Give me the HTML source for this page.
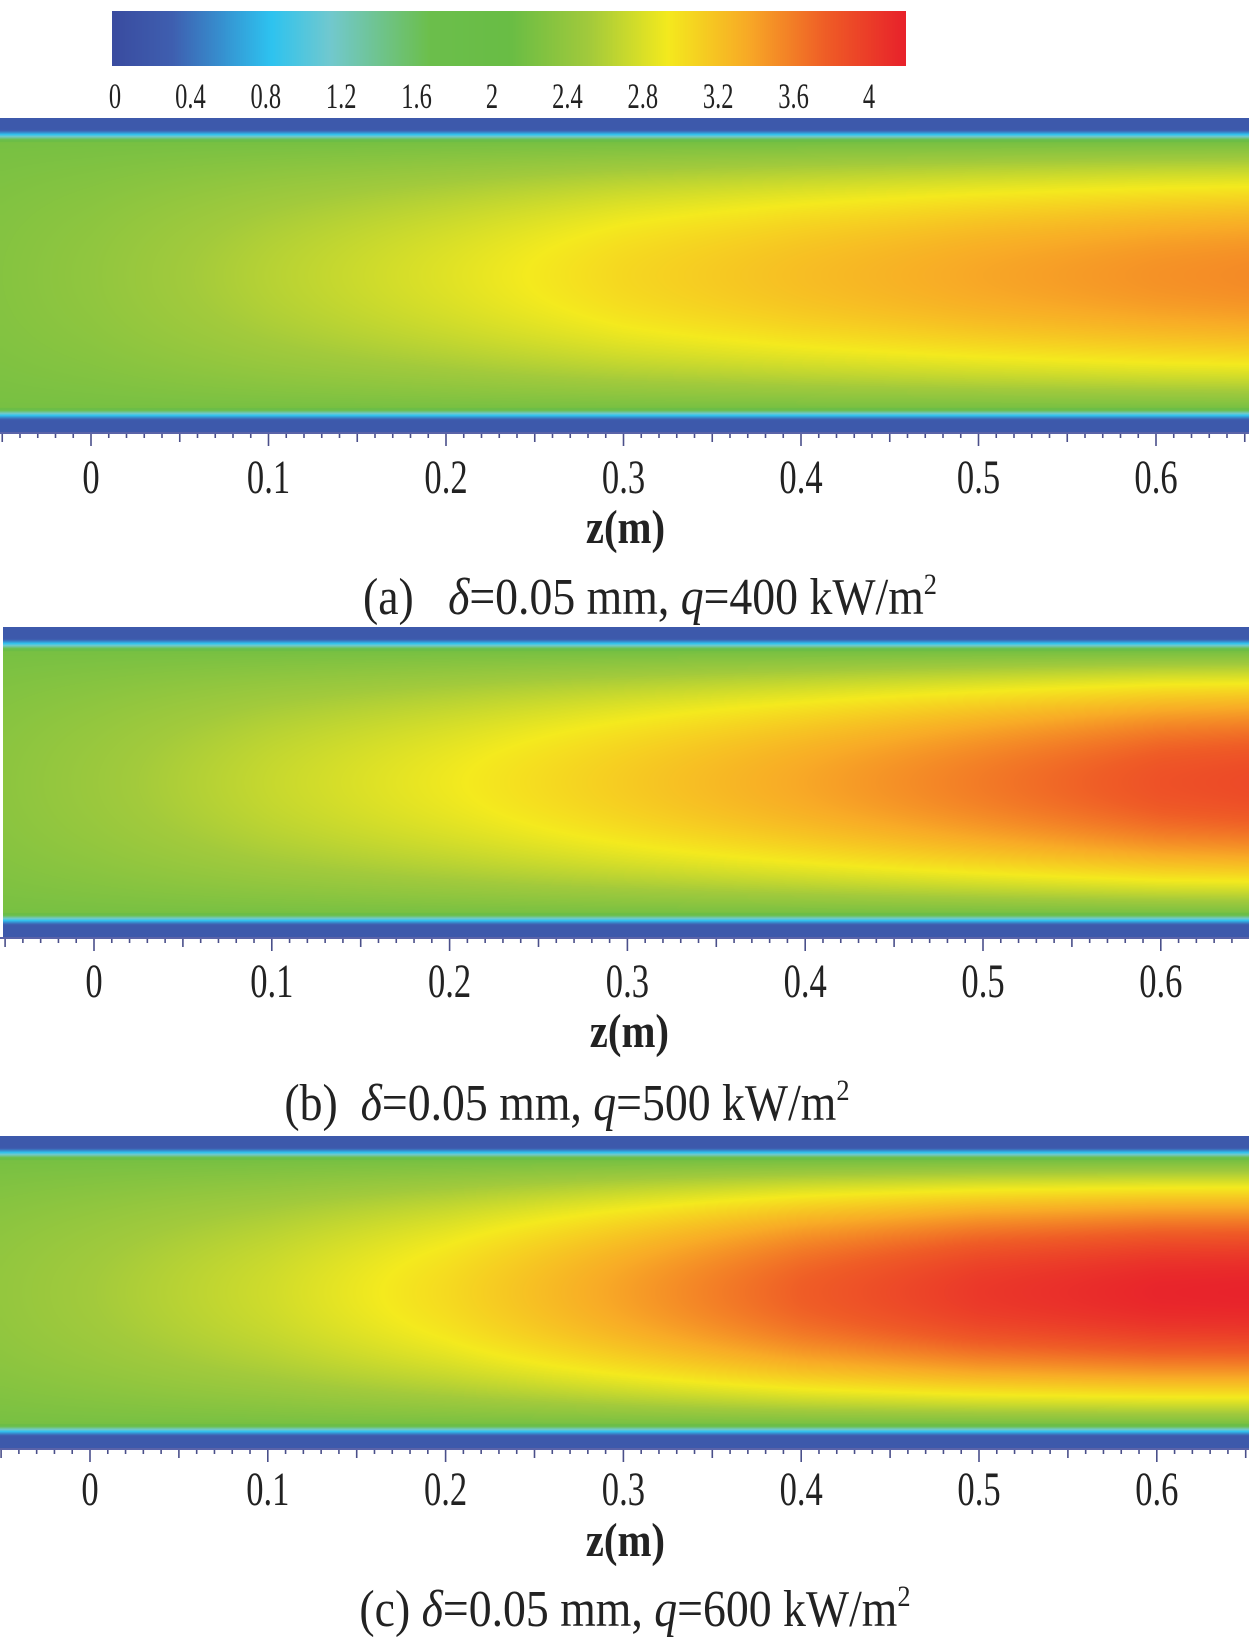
<!DOCTYPE html>
<html><head><meta charset="utf-8"><style>
html,body{margin:0;padding:0;background:#fff;}
#wrap{position:relative;width:1249px;height:1645px;overflow:hidden;}
canvas{position:absolute;}
svg{position:absolute;left:0;top:0;}
text{font-family:"Liberation Serif",serif;fill:#222;}
</style></head><body>
<div id="wrap">
<canvas id="cb" width="794" height="55" style="left:112px;top:11px"></canvas>
<canvas id="pa" width="1249" height="314" style="left:0;top:118px"></canvas>
<canvas id="pb" width="1246" height="310" style="left:3px;top:627px"></canvas>
<canvas id="pc" width="1249" height="312" style="left:0;top:1136px"></canvas>
<svg id="ov" width="1249" height="1645"></svg>
</div>
<script>
// colorbar ticks
const cbTicks=[0,0.4,0.8,1.2,1.6,2,2.4,2.8,3.2,3.6,4];
// colormap stops (value, color)
const cmapVals=[0,0.3,0.8,1.1,1.6,2.0,2.4,2.8,3.2,3.6,4];
const cmapCols=["#3a4ca0","#3f5fb0","#2ec3f0","#72c9cf","#6cbf4c","#69bd45","#a2ca3c","#f4ea1e","#f8ab26","#ef5d26","#e8222b"];
// axial positions (m) and centerline values per panel
const zPos=[-0.05,0,0.1,0.2,0.3,0.4,0.5,0.6,0.67];
const centerA=[2.2,2.28,2.5,2.7,2.92,3.08,3.22,3.33,3.38];
const centerB=[2.25,2.35,2.58,2.78,3.0,3.22,3.45,3.68,3.75];
const centerC=[2.3,2.4,2.62,2.9,3.25,3.6,3.85,3.98,4.0];
const xTicks=[0,0.1,0.2,0.3,0.4,0.5,0.6];
const wallVal=2.1;

function hex(c){return [parseInt(c.slice(1,3),16),parseInt(c.slice(3,5),16),parseInt(c.slice(5,7),16)];}
const cmapRGB=cmapCols.map(hex);
function cmap(v){
  if(v<=cmapVals[0])return cmapRGB[0];
  for(let i=1;i<cmapVals.length;i++){if(v<=cmapVals[i]){const t=(v-cmapVals[i-1])/(cmapVals[i]-cmapVals[i-1]);const a=cmapRGB[i-1],b=cmapRGB[i];return [a[0]+(b[0]-a[0])*t,a[1]+(b[1]-a[1])*t,a[2]+(b[2]-a[2])*t];}}
  return cmapRGB[cmapRGB.length-1];
}
function interp(xs,ys,x){
  if(x<=xs[0])return ys[0];
  for(let i=1;i<xs.length;i++)if(x<=xs[i]){const t=(x-xs[i-1])/(xs[i]-xs[i-1]);return ys[i-1]+(ys[i]-ys[i-1])*t;}
  return ys[ys.length-1];
}
// colorbar
(function(){const c=document.getElementById('cb'),g=c.getContext('2d');const W=c.width,H=c.height;
 for(let x=0;x<W;x++){const v=4*x/(W-1);const r=cmap(v);g.fillStyle=`rgb(${r[0]|0},${r[1]|0},${r[2]|0})`;g.fillRect(x,0,1,H);}})();

function drawPanel(id,center,x0,pxPerM,canvasLeft){
  const c=document.getElementById(id),g=c.getContext('2d');const W=c.width,H=c.height;
  const img=g.createImageData(W,H);
  const zOf=px=>(px+canvasLeft-x0)/pxPerM;
  for(let x=0;x<W;x++){
    const cv=interp(zPos,center,zOf(x));
    for(let y=0;y<H;y++){
      const d=Math.min(y,H-1-y);
      let v;
      if(d<11){v=0.2;}
      else if(d<24){v=0.2+(wallVal-0.2)*Math.pow((d-11)/13,1.2);}
      else{const s=Math.abs((y-H/2)/(H/2-24));v=wallVal+(cv-wallVal)*(1-Math.pow(Math.min(s,1),2));}
      const r=cmap(v);const i=(y*W+x)*4;img.data[i]=r[0];img.data[i+1]=r[1];img.data[i+2]=r[2];img.data[i+3]=255;
    }
  }
  g.putImageData(img,0,0);
}
drawPanel('pa',centerA,91,1775,0);
drawPanel('pb',centerB,94,1778,3);
drawPanel('pc',centerC,90,1778,0);

const NS="http://www.w3.org/2000/svg";const ov=document.getElementById('ov');
function txt(x,y,s,size,sx,name,bold){const t=document.createElementNS(NS,'text');
 t.setAttribute('x',0);t.setAttribute('y',0);t.setAttribute('text-anchor','middle');
 t.setAttribute('font-size',size);if(bold)t.setAttribute('font-weight','bold');
 t.setAttribute('transform',`translate(${x},${y}) scale(${sx},1)`);t.innerHTML=s;
 
 
 ov.appendChild(t);return t;}
// colorbar labels
cbTicks.forEach(v=>{const x=115+(869-115)*v/4;txt(x,108,String(v),36,0.68,'colorbar-tick-label');});
function axis(top,x0,pxPerM,labY,zY,capY,capX,cap,key){
  for(let k=-9;k<=68;k++){const z=k/100;const x=x0+z*pxPerM;if(x<0||x>1249)continue;
    const len=k%10===0?14:(k%5===0?10:6);
    const l=document.createElementNS(NS,'line');l.setAttribute('x1',x);l.setAttribute('x2',x);l.setAttribute('y1',top);l.setAttribute('y2',top+len);
    l.setAttribute('stroke','#4a4f8a');l.setAttribute('stroke-width',1.6);
    
    
    ov.appendChild(l);}
  const bl=document.createElementNS(NS,'line');bl.setAttribute('x1',0);bl.setAttribute('x2',1249);bl.setAttribute('y1',top+1);bl.setAttribute('y2',top+1);bl.setAttribute('stroke','#5a63a8');bl.setAttribute('stroke-width',2);
  
  
  ov.appendChild(bl);
  xTicks.forEach(v=>txt(x0+v*pxPerM,labY,String(v),48,0.72,'x-tick-label-'+key));
  txt(x0+0.3*pxPerM+2,zY,'z(m)',48,0.85,'x-axis-title-'+key,true);
  txt(capX,capY,cap,52,0.88,'caption-'+key);
}
axis(432,91,1775,493,543,614,650,'(a)&#160;&#160; <tspan font-style="italic">δ</tspan>=0.05 mm, <tspan font-style="italic">q</tspan>=400 kW/m<tspan font-size="30" dy="-20">2</tspan>','a');
axis(937,94,1778,997,1047,1120,567,'(b)&#160; <tspan font-style="italic">δ</tspan>=0.05 mm, <tspan font-style="italic">q</tspan>=500 kW/m<tspan font-size="30" dy="-20">2</tspan>','b');
axis(1448,90,1778,1505,1556,1626,635,'(c) <tspan font-style="italic">δ</tspan>=0.05 mm, <tspan font-style="italic">q</tspan>=600 kW/m<tspan font-size="30" dy="-20">2</tspan>','c');
</script>
</body></html>
